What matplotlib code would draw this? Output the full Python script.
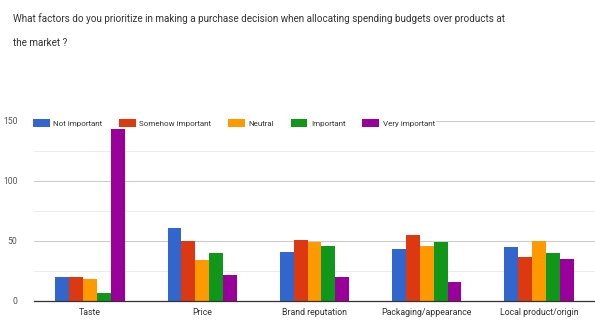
import matplotlib
matplotlib.use("Agg")
import matplotlib.pyplot as plt
import numpy as np
from matplotlib.patches import Patch

plt.rcParams["font.family"] = ["Roboto", "DejaVu Sans"]

categories = ["Taste", "Price", "Brand reputation", "Packaging/appearance", "Local product/origin"]
series_names = ["Not important", "Somehow important", "Neutral", "Important", "Very important"]
not_important = [20, 61, 41, 43, 45]
somehow_important = [20, 50, 51, 55, 37]
neutral = [18, 34, 49, 46, 50]
important = [7, 40, 46, 49, 40]
very_important = [143, 22, 20, 16, 35]
colors = ["#3366cc", "#dc3912", "#ff9900", "#109618", "#990099"]

series = [not_important, somehow_important, neutral, important, very_important]

fig = plt.figure(figsize=(5.95, 3.23), dpi=100)
ax = fig.add_axes([34/595, 1-301/323, 1-34/595, (301-121)/323])

x = np.arange(len(categories))
bw = 0.124
for i, (vals, c, name) in enumerate(zip(series, colors, series_names)):
    ax.bar(x + (i - 2) * bw, vals, bw, color=c, label=name, zorder=3)

ax.set_xlim(-0.5, len(categories) - 0.5)
ax.set_ylim(0, 150)
ax.set_yticks([0, 50, 100, 150])
ax.set_yticks([25, 75, 125], minor=True)
ax.grid(axis="y", which="major", color="#cccccc", linewidth=0.8, zorder=0)
ax.grid(axis="y", which="minor", color="#ececec", linewidth=0.7, zorder=0)
ax.tick_params(axis="y", which="both", length=0, labelsize=6.2, labelcolor="#555555", pad=12)
ax.tick_params(axis="x", length=0, labelsize=6.3, labelcolor="#333333", pad=5)
ax.set_xticks(x)
ax.set_xticklabels(categories)
for s in ["top", "right", "left"]:
    ax.spines[s].set_visible(False)
ax.spines["bottom"].set_color("#333333")
ax.spines["bottom"].set_linewidth(0.9)
ax.spines["bottom"].set_zorder(4)

handles = [Patch(facecolor=c, label=n) for c, n in zip(colors, series_names)]
leg = fig.legend(handles=handles, loc="center left", bbox_to_anchor=(27/595, 1-123/323),
                 ncol=5, fontsize=5.8, frameon=True, handlelength=2.1, handleheight=1.2,
                 columnspacing=2.05, handletextpad=0.45, borderpad=0.2, labelcolor="#333333")
leg.get_frame().set_edgecolor("none")
leg.get_frame().set_facecolor("white")
leg.get_frame().set_alpha(1)

fig.text(13/595, 1-19/323, "What factors do you prioritize in making a purchase decision when allocating spending budgets over products at",
         fontsize=7.15, color="#333333", va="center", ha="left")
fig.text(13/595, 1-43/323, "the market ?", fontsize=7.15, color="#333333", va="center", ha="left")

fig.savefig("out.png", dpi=100, facecolor="white")
